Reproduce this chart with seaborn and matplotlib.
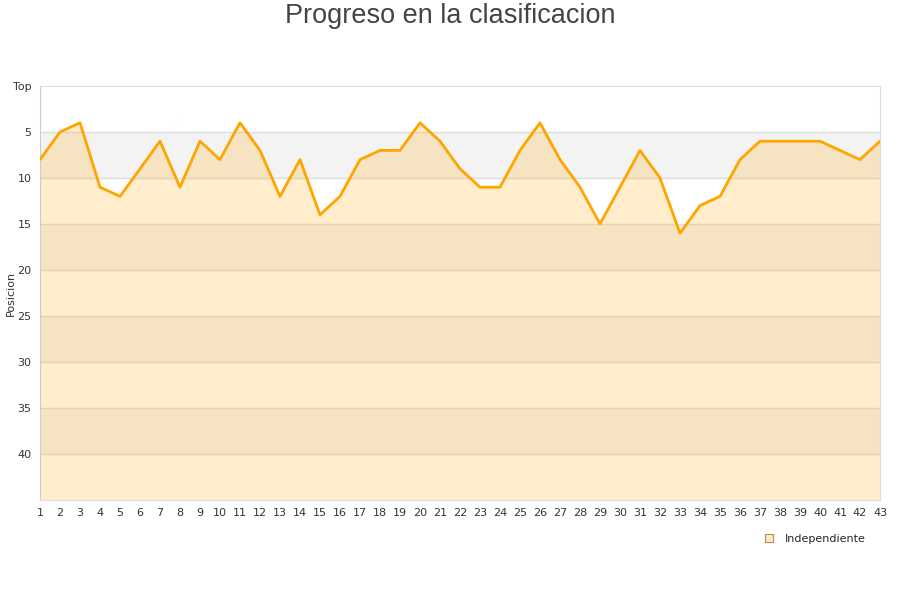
import numpy as np
import pandas as pd
import matplotlib
matplotlib.use("Agg")
import matplotlib.pyplot as plt
import seaborn as sns

# jornadas y posicion del equipo
jornadas = list(range(1, 44))
posicion = [8, 5, 4, 11, 12, 9, 6, 11, 6, 8,
            4, 7, 12, 8, 14, 12, 8, 7, 7, 4,
            6, 9, 11, 11, 7, 4, 8, 11, 15, 11,
            7, 10, 16, 13, 12, 8, 6, 6, 6, 6,
            7, 8, 6]
equipo = "Independiente"
y_ticks = [0, 5, 10, 15, 20, 25, 30, 35, 40]
y_labels = ["Top", "5", "10", "15", "20", "25", "30", "35", "40"]

df = pd.DataFrame({"Jornada": jornadas, "Posicion": posicion})

sns.set_style("white")
plt.rcParams['font.family'] = ['DejaVu Sans']

fig = plt.figure(figsize=(9, 6), dpi=100)
ax = fig.add_axes([40 / 900, 1 - 500 / 600, 840 / 900, 414 / 600])

# bandas alternas
for i in range(0, 45, 5):
    col = "#f3f3f3" if (i // 5) % 2 == 1 else "white"
    ax.axhspan(i, i + 5, color=col, zorder=0, lw=0)
for t in range(5, 45, 5):
    ax.axhline(t, color="#dddddd", lw=1, zorder=1)

ax.fill_between(df["Jornada"], df["Posicion"], 45, color="#ffa500", alpha=0.2, lw=0, zorder=2)
sns.lineplot(data=df, x="Jornada", y="Posicion", color="#ffa500", lw=2, ax=ax, zorder=3)

ax.set_xlim(1, 43)
ax.set_ylim(45, 0)
ax.set_xticks(jornadas)
ax.set_xticklabels([str(j) for j in jornadas], fontsize=8, color="#333333")
ax.set_yticks(y_ticks)
ax.set_yticklabels(y_labels, fontsize=8, color="#333333")
ax.tick_params(length=0, pad=6)
ax.set_xlabel("")
ax.set_ylabel("")
fig.text(11 / 900, 1 - 293 / 600, "Posicion", rotation=90, ha="center", va="center",
         fontsize=8, color="#333333")

for s in ax.spines.values():
    s.set_visible(True)
    s.set_color("#dddddd")
ax.spines["left"].set_color("#cccccc")

fig.text(0.5, 1 - 16 / 600, "Progreso en la clasificacion", ha="center", va="center",
         fontsize=19.5, color="#444444", family=["Liberation Sans", "DejaVu Sans"])

leg_handle = plt.Line2D([], [], marker="s", ls="", markersize=6,
                        markerfacecolor="#fde9c2", markeredgecolor="#b09060", markeredgewidth=0.8)
fig.legend([leg_handle], [equipo], loc="center", bbox_to_anchor=(812 / 900, 1 - 539 / 600),
           frameon=False, fontsize=8, handletextpad=0.4)

fig.savefig("out.png", dpi=100)
